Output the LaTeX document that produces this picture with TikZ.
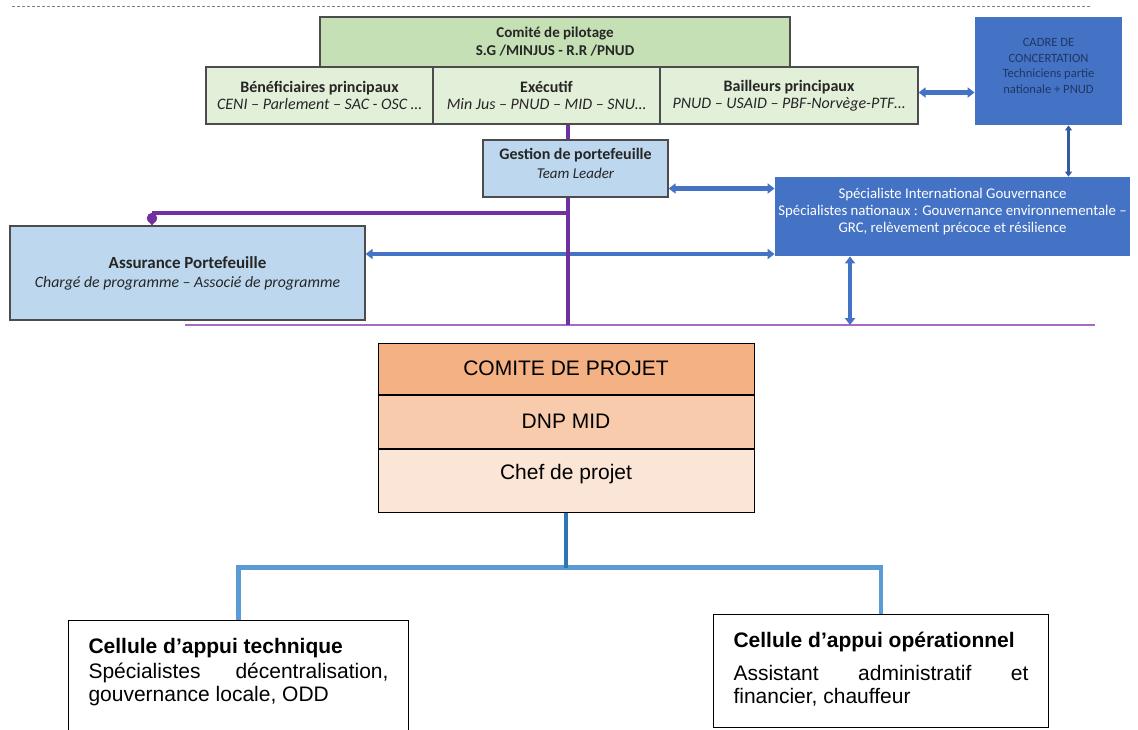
\documentclass[tikz,border=0pt]{standalone}
\usepackage{fontspec}
\setmainfont{Carlito}
\newfontfamily\arialfont{Liberation Sans}
\usetikzlibrary{arrows.meta,positioning}

\definecolor{pilotgreen}{HTML}{C5E0B4}
\definecolor{rowgreen}{HTML}{E2F0D9}
\definecolor{cadreblue}{HTML}{4472C4}
\definecolor{paleblue}{HTML}{BDD7EE}
\definecolor{navytext}{HTML}{1F3864}
\definecolor{portfoliopurple}{HTML}{7030A0}
\definecolor{lilacline}{HTML}{A66BC6}
\definecolor{comiteorange}{HTML}{F4B183}
\definecolor{dnporange}{HTML}{F8CBAD}
\definecolor{chefpeach}{HTML}{FBE5D6}
\definecolor{stemblue}{HTML}{2E75B6}
\definecolor{branchblue}{HTML}{5B9BD5}

\newcommand{\keepwords}{\hyphenpenalty=10000\relax\exhyphenpenalty=10000\relax\tolerance=10000\relax}
\newcommand{\celltitle}[1]{{\bfseries #1}}
\newcommand{\liftup}{\par\vspace{5pt}}

\tikzset{
  upbox/.style={draw=black!70, line width=0.6pt, inner sep=0pt, align=center, text=black!85},
  rowbox/.style={upbox, fill=rowgreen, minimum height=28.5pt,
    font=\fontsize{8}{8.7}\selectfont},
  bluebox/.style={fill=cadreblue, inner sep=0pt, align=flush center},
  lightbox/.style={upbox, fill=paleblue},
  linkarrow/.style={draw=cadreblue, line width=2.2pt,
    {Triangle[width=5pt,length=3.5pt]}-{Triangle[width=5pt,length=3.5pt]}},
  thinlink/.style={draw=cadreblue!80!black, line width=1.2pt,
    {Triangle[width=3.5pt,length=2.5pt]}-{Triangle[width=3.5pt,length=2.5pt]}},
  purpleline/.style={draw=portfoliopurple, line width=2.2pt},
  projbox/.style={draw=black, line width=0.5pt, inner sep=0pt, minimum width=188pt,
    font=\arialfont\fontsize{10.5}{12}\selectfont},
  cellbox/.style={draw=black, line width=0.5pt, fill=white, inner xsep=10pt, inner ysep=0pt,
    align=justify, anchor=north west, font=\arialfont\fontsize{10.5}{11.5}\selectfont}
}

\begin{document}
\begin{tikzpicture}[x=0.5pt, y=-0.5pt]
\useasboundingbox (0,0) rectangle (1138,729);

% top: steering and portfolio
\draw[gray, line width=0.5pt, dash pattern=on 1.5pt off 1pt] (12,6) -- (1090,6);

\node[upbox, fill=pilotgreen, minimum width=235pt, minimum height=25pt,
  font=\bfseries\fontsize{7.5}{9}\selectfont] (pilotage) at (555,42)
  {Comité de pilotage\\S.G /MINJUS - R.R /PNUD};
\node[rowbox, minimum width=113.5pt] (benef) at (319.5,95.5)
  {\textbf{Bénéficiaires principaux}\\\textit{CENI – Parlement – SAC - OSC …}};
\node[rowbox, minimum width=113.5pt] (executif) at (546.5,95.5)
  {\textbf{Exécutif}\\\textit{Min Jus – PNUD – MID – SNU…}};
\node[rowbox, minimum width=129pt] (bailleurs) at (789,95.5)
  {\textbf{Bailleurs principaux}\\\textit{PNUD – USAID – PBF-Norvège-PTF…}};

\node[bluebox, minimum width=73.5pt, minimum height=54pt, text width=73.5pt, text=navytext,
  font=\fontsize{6.3}{7.7}\selectfont] (cadre) at (1048.5,71)
  {CADRE DE\\CONCERTATION\\Techniciens partie\\nationale + PNUD\liftup};

\node[lightbox, align=flush center, minimum width=92.5pt, minimum height=28.5pt, text width=92.5pt,
  font=\fontsize{7.5}{9.5}\selectfont] (gestion) at (575.5,168.5)
  {{\bfseries\fontsize{8}{9.5}\selectfont Gestion de portefeuille}\\\textit{Team Leader}\liftup};

\node[bluebox, minimum width=177.5pt, minimum height=39.5pt, inner xsep=-5pt, text width=187.5pt,
  text=white, font=\fontsize{7.4}{8.6}\selectfont] (specialistes) at (952.5,216.5)
  {Spécialiste International Gouvernance\\Spécialistes nationaux : Gouvernance environnementale –\\GRC, relèvement précoce et résilience\liftup};

\node[lightbox, minimum width=177.5pt, minimum height=47pt,
  font=\fontsize{7.9}{9.5}\selectfont] (assurance) at (187.5,273)
  {{\bfseries\fontsize{8.5}{9}\selectfont Assurance Portefeuille}\\\textit{Chargé de programme – Associé de programme}};

\coordinate (spine) at (568,0);
\coordinate (branch) at (152,213);
\coordinate (baseL) at (185,325);
\coordinate (baseR) at (1095,325);
\coordinate (upkey) at (850,325);

\draw[lilacline, line width=0.8pt] (baseL) -- (baseR);
\draw[linkarrow] ([yshift=1.5pt]bailleurs.east) -- ([yshift=1.5pt]bailleurs.east -| cadre.west);
\draw[thinlink] ([xshift=10pt]cadre.south) -- ([xshift=10pt]cadre.south |- specialistes.north);
\draw[linkarrow] ([yshift=-10pt]gestion.east) -- ([yshift=-10pt]gestion.east -| specialistes.west);
\draw[linkarrow] ([yshift=9.5pt]assurance.east) -- ([yshift=9.5pt]assurance.east -| specialistes.west);
\draw[linkarrow] (upkey) -- (upkey |- specialistes.south);

\draw[purpleline] (spine |- executif.south) -- (spine |- gestion.north);
\draw[purpleline] (spine |- gestion.south) -- (spine |- baseL);
\draw[purpleline] (spine |- branch) -- (branch);
\draw[purpleline, {Circle[length=5pt]}-{Triangle[width=5pt,length=3pt]}] (branch) -- (branch |- assurance.north);

% bottom: project
\node[projbox, fill=comiteorange, minimum height=25.5pt] (comite) at (566,368.5) {COMITE DE PROJET};
\node[projbox, fill=dnporange, minimum height=26.5pt, below=0pt of comite] (dnp) {DNP MID};
\node[projbox, fill=chefpeach, below=0pt of dnp, text height=15pt, text depth=16.5pt] (chef) {Chef de projet};

\node[cellbox, text width=150pt, minimum height=55pt] (technique) at (68,620)
  {\keepwords\celltitle{Cellule d’appui technique}\\[1pt]
   Spécialistes décentralisation, gouvernance locale, ODD\par\kern3pt};
\node[cellbox, text width=147.5pt, minimum height=56.5pt] (operationnel) at (713,614)
  {\keepwords\celltitle{Cellule d’appui opérationnel}\\[5pt]
   Assistant administratif et financier, chauffeur\par\kern2pt};

\draw[branchblue, line width=2.4pt] (technique.north) |- ([yshift=-27.5pt]chef.south) -| (operationnel.north);
\draw[stemblue, line width=2pt] (chef.south) -- ++(0,55) coordinate (hub);

\end{tikzpicture}
\end{document}
